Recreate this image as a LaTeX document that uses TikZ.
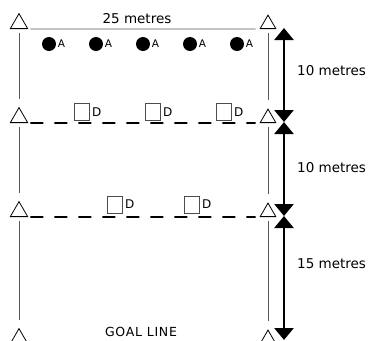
\documentclass[tikz,border=0pt]{standalone}
\usepackage{fontspec}
\setmainfont{DejaVu Sans}
\usetikzlibrary{shapes.geometric,arrows.meta}

\tikzset{
  cone/.style={draw, regular polygon, regular polygon sides=3, minimum size=20pt, inner sep=0pt, anchor=south, line width=0.8pt},
  attacker/.style={circle, fill=black, minimum size=14pt, inner sep=0pt},
  defender/.style={draw=black!70, rectangle, minimum width=15pt, minimum height=17pt, inner sep=0pt, line width=0.8pt},
  tag/.style={font=\fontsize{10.5}{12}\selectfont, inner sep=1.5pt},
  dtag/.style={font=\fontsize{12}{14}\selectfont, inner sep=2pt},
  dist/.style={font=\fontsize{13.5}{16}\selectfont, inner sep=0pt},
  touchline/.style={draw=black!65, line width=0.7pt, shorten <=4pt, shorten >=8pt},
  dashline/.style={line width=1.6pt, dash pattern=on 13pt off 11pt, shorten <=2pt, shorten >=4pt},
  measure/.style={line width=2.6pt, {Triangle[width=19pt,length=12pt]}-{Triangle[width=19pt,length=12pt]}},
}

\begin{document}
\begin{tikzpicture}[x=1pt,y=-1pt]
  \useasboundingbox (0,0) rectangle (368,341);
  % cones
  \foreach \y [count=\i] in {29,123,217,344} {
    \node[cone] (L\i) at (19,\y) {};
    \node[cone, minimum size=18pt] (R\i) at (268,\y) {};
  }
  \foreach \i/\j in {1/2,2/3,3/4} {
    \draw[touchline] (L\i.south) -- (L\j.north);
    \draw[touchline] (R\i.south) -- (R\j.north);
  }
  \draw[draw=black!65, line width=0.7pt, shorten <=2pt, shorten >=4pt] (L1.corner 3) -- (R1.corner 2);
  \draw[dashline] (L2.corner 3) -- (R2.corner 2);
  \draw[dashline] (L3.corner 3) -- (R3.corner 2);
  \node[dist] (width) at (137,19) {25 metres};
  % players
  \foreach \x [count=\i] in {49,96,143,190,237}
    \node[attacker, label={[tag]right:A}] (a\i) at (\x,44) {};
  \foreach \x [count=\i] in {82,153,224}
    \node[defender, label={[dtag]right:D}] (d\i) at (\x,112) {};
  \foreach \x [count=\i] in {115,192}
    \node[defender, label={[dtag]right:D}] (e\i) at (\x,204.5) {};
  % distances
  \coordinate (m0) at (284,28);
  \coordinate (m1) at (284,122);
  \coordinate (m2) at (284,216);
  \coordinate (m3) at (284,340);
  \draw[measure] (m0) -- (m1);
  \draw[measure] (m1) -- (m2);
  \draw[measure] (m2) -- (m3);
  \node[dist, anchor=west] (g1) at (297,71) {10 metres};
  \node[dist, anchor=west] (g2) at (297,168) {10 metres};
  \node[dist, anchor=west] (g3) at (297,264) {15 metres};
  \node[font=\fontsize{12.5}{14}\selectfont\addfontfeature{LetterSpace=6}] (goal) at (141,332) {GOAL LINE};
\end{tikzpicture}
\end{document}
